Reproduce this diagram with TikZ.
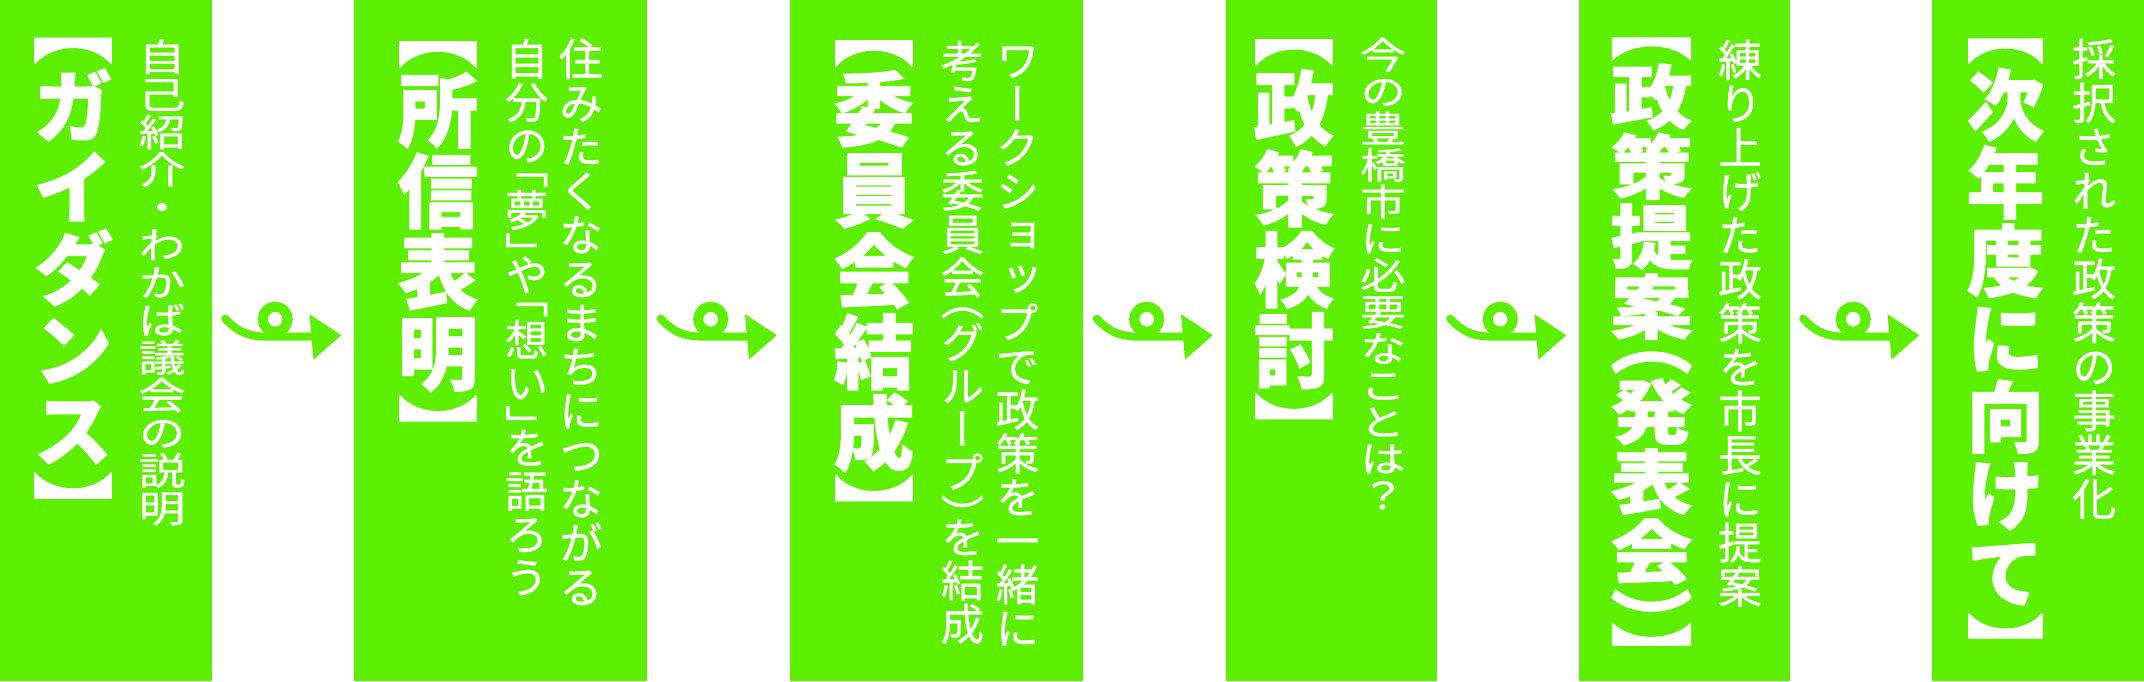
\documentclass[tikz,border=0pt]{standalone}
\usepackage{fontspec}
\usepackage{graphicx}
\usetikzlibrary{calc}
\newfontfamily\jp[RawFeature=+vert,FakeBold=0.8]{Noto Sans CJK JP}
\newfontfamily\jpt[RawFeature=+vert,BoldFeatures={FakeBold=1}]{Noto Sans CJK JP}
\definecolor{boxgreen}{RGB}{92,240,0}
\newlength\vp
\newif\ifhalfo
\newif\ifhalfc
\def\vcolend{\vcolendmark}
\newcommand\vcol[3]{\vbox{\offinterlineskip\vp=#1\relax\def\vxs{#2}\fontsize{\vp}{\vp}\selectfont\vcolloop#3\vcolend}}
\def\vcolloop#1{\ifx\vcolend#1\else\vcell{#1}\expandafter\vcolloop\fi}
\def\vcell#1{%
  \halfofalse\halfcfalse
  \ifnum`#1=`「 \halfotrue\fi
  \ifnum`#1=`（ \halfotrue\fi
  \ifnum`#1=`【 \halfotrue\fi
  \ifnum`#1=`」 \halfctrue\fi
  \ifnum`#1=`） \halfctrue\fi
  \ifnum`#1=`】 \halfctrue\fi
  \hbox to \vxs\vp{\hss
    \ifhalfo\vrule height .38\vp depth .12\vp width 0pt\smash{\scalebox{\vxs}[1]{#1}}%
    \else\ifhalfc\vrule height .38\vp depth .12\vp width 0pt\smash{\raisebox{-.5\vp}{\scalebox{\vxs}[1]{#1}}}%
    \else\vrule height .88\vp depth .12\vp width 0pt\smash{\scalebox{\vxs}[1]{#1}}\fi\fi
  \hss}}
\tikzset{
  greenbox/.style={fill=boxgreen, draw=none, inner sep=0pt, anchor=north west, minimum height=681pt},
  arrowline/.style={draw=boxgreen, line width=8pt},
  titlecol/.style={anchor=north, inner sep=0pt, text=white, font=\jpt\bfseries},
  subcol/.style={anchor=north, inner sep=0pt, text=white, font=\jp},
  looparrow/.pic={
    \draw[arrowline, line cap=round] (-58,-22) .. controls (-43,-6) and (-31,-4) .. (-13,-4) -- (30,-4);
    \draw[arrowline, line width=10pt] (-8,-21.5) circle[radius=12.5];
    \fill[boxgreen] (26.3,-26.5) -- (58,-5.5) -- (30.3,18.8) -- cycle;
  }
}
\begin{document}
\begin{tikzpicture}[x=1pt, y=-1pt]
\useasboundingbox (0,0) rectangle (2144,681);
\node[greenbox, minimum width=212pt] (b1) at (0,0) {};
\node[greenbox, minimum width=293pt] (b2) at (354,0) {};
\node[greenbox, minimum width=293pt] (b3) at (790,0) {};
\node[greenbox, minimum width=211pt] (b4) at (1226,0) {};
\node[greenbox, minimum width=211pt] (b5) at (1579,0) {};
\node[greenbox, minimum width=212pt] (b6) at (1932,0) {};
% arrows
\pic at ($(b1.east)!0.5!(b2.west)$) {looparrow};
\pic at ($(b2.east)!0.5!(b3.west)$) {looparrow};
\pic at ($(b3.east)!0.5!(b4.west)$) {looparrow};
\pic at ($(b4.east)!0.5!(b5.west)$) {looparrow};
\pic at ($(b5.east)!0.5!(b6.west)$) {looparrow};
% box 1
\node[titlecol] (t1) at ($(b1.north west)+(73,25)$) {\vcol{81pt}{1}{【ガイダンス】}};
\node[subcol] (s1) at ($(b1.north west)+(162,37.7)$) {\vcol{37.6pt}{1.25}{自己紹介・わかば議会の説明}};
% box 2
\node[titlecol] (t2) at ($(b2.north west)+(84,28.7)$) {\vcol{81pt}{1}{【所信表明】}};
\node[subcol] (s2a) at ($(b2.north west)+(227,36.6)$) {\vcol{44pt}{1}{住みたくなるまちにつながる}};
\node[subcol] (s2b) at ($(b2.north west)+(172.7,37)$) {\vcol{43.2pt}{1}{自分の「夢」や「想い」を語ろう}};
% box 3
\node[titlecol] (t3) at ($(b3.north west)+(84,27.6)$) {\vcol{81pt}{1}{【委員会結成】}};
\node[subcol] (s3a) at ($(b3.north west)+(227.5,38)$) {\vcol{43.7pt}{1}{ワークショップで政策を一緒に}};
\node[subcol] (s3b) at ($(b3.north west)+(172.5,39)$) {\vcol{43.3pt}{1}{考える委員会（グループ）を結成}};
% box 4
\node[titlecol] (t4) at ($(b4.north west)+(68,26.5)$) {\vcol{81pt}{1}{【政策検討】}};
\node[subcol] (s4) at ($(b4.north west)+(157,36.3)$) {\vcol{36.7pt}{1.25}{今の豊橋市に必要なことは？}};
% box 5
\node[titlecol] (t5) at ($(b5.north west)+(72.5,26.4)$) {\vcol{70pt}{1.18}{【政策提案（発表会）】}};
\node[subcol] (s5) at ($(b5.north west)+(161,37.5)$) {\vcol{43.9pt}{1}{練り上げた政策を市長に提案}};
% box 6
\node[titlecol] (t6) at ($(b6.north west)+(73.5,26.3)$) {\vcol{78pt}{1}{【次年度に向けて】}};
\node[subcol] (s6) at ($(b6.north west)+(162,36.6)$) {\vcol{44pt}{1}{採択された政策の事業化}};
\end{tikzpicture}
\end{document}
